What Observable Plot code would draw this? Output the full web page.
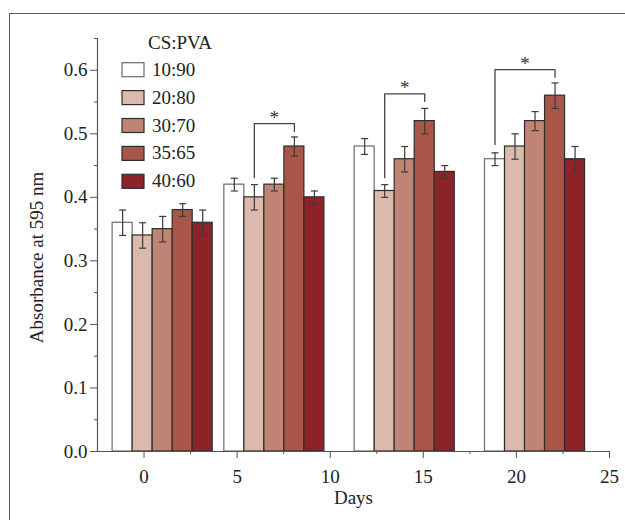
<!DOCTYPE html>
<html>
<head>
<meta charset="utf-8">
<script src="https://cdn.jsdelivr.net/npm/d3@7"></script>
<script src="https://cdn.jsdelivr.net/npm/@observablehq/plot@0.6"></script>
<style>
  html, body { margin: 0; padding: 0; background: #fff; overflow: hidden; }
  #wrap { position: relative; width: 625px; height: 520px; overflow: hidden; }
  #frame { position: absolute; left: 9px; top: 13px; width: 700px; height: 600px;
           border-top: 1.5px solid #5c5c5c; border-left: 1.5px solid #5c5c5c; }
  #chart { position: absolute; left: 0; top: 0; }
</style>
</head>
<body>
<div id="wrap"><div id="frame"></div><div id="chart"></div></div>
<script>
// ---- data ----
const days = [1, 7, 14, 21];
const seriesNames = ["10:90", "20:80", "30:70", "35:65", "40:60"];
const seriesColors = ["#ffffff", "#dcb9ad", "#bf8474", "#a85647", "#8e2229"];
const values1090 = [0.36, 0.42, 0.48, 0.46];
const values2080 = [0.34, 0.40, 0.41, 0.48];
const values3070 = [0.35, 0.42, 0.46, 0.52];
const values3565 = [0.38, 0.48, 0.52, 0.56];
const values4060 = [0.36, 0.40, 0.44, 0.46];
const errors1090 = [0.02, 0.01, 0.0125, 0.01];
const errors2080 = [0.02, 0.02, 0.01, 0.02];
const errors3070 = [0.02, 0.01, 0.02, 0.015];
const errors3565 = [0.01, 0.015, 0.02, 0.02];
const errors4060 = [0.02, 0.01, 0.01, 0.02];
const xTicks = [0, 5, 10, 15, 20, 25];
const yTicks = [0, 0.1, 0.2, 0.3, 0.4, 0.5, 0.6];
// significance brackets
const bracketDay = [7, 14, 21];
const bracketFrom = [1, 1, 0];       // series index of left leg
const bracketTo = [3, 3, 3];         // series index of right leg
const bracketLeftBase = [0.431, 0.431, 0.483];
const bracketTop = [0.516, 0.563, 0.601];
const bracketRightBase = [0.504, 0.551, 0.589];
const bracketLabel = ["*", "*", "*"];

// ---- layout params ----
const barW = 1.075;
const capHalf = 0.19;

const allValues = [values1090, values2080, values3070, values3565, values4060];
const allErrors = [errors1090, errors2080, errors3070, errors3565, errors4060];
const rows = [];
days.forEach((day, di) => {
  seriesNames.forEach((s, si) => {
    rows.push({day, si, series: s, color: seriesColors[si],
      value: allValues[si][di], err: allErrors[si][di]});
  });
});
const xc = d => d.day + (d.si - 2) * barW;
const brackets = [];
const stars = [];
bracketDay.forEach((day, i) => {
  const xl = day + (bracketFrom[i] - 2) * barW;
  const xr = day + (bracketTo[i] - 2) * barW;
  brackets.push([
    {x: xl, y: bracketLeftBase[i]}, {x: xl, y: bracketTop[i]},
    {x: xr, y: bracketTop[i]}, {x: xr, y: bracketRightBase[i]}
  ]);
  stars.push({x: (xl + xr) / 2, y: bracketTop[i], label: bracketLabel[i]});
});

const minorX = d3.range(2.5, 25, 5);
const minorY = d3.range(0.05, 0.66, 0.1);

const textColor = "#222";
const axisColor = "#555";
const font = "'Liberation Serif', 'Times New Roman', serif";

const plot = Plot.plot({
  width: 625, height: 520,
  marginLeft: 97, marginRight: 16, marginTop: 38, marginBottom: 69,
  x: {domain: [-2.5, 25]},
  y: {domain: [0, 0.65]},
  color: {type: "identity"},
  style: {fontFamily: font, fontSize: "19px", color: textColor, background: "transparent", overflow: "visible"},
  marks: [
    Plot.rectY(rows, {
      x1: d => d.day + (d.si - 2.5) * barW, x2: d => d.day + (d.si - 1.5) * barW,
      y1: 0, y2: "value", fill: "color",
      stroke: d => d.si === 0 ? "#6b6b6b" : "#2d2d2d", strokeWidth: 1.2
    }),
    Plot.ruleX(rows, {x: xc, y1: d => d.value - d.err, y2: d => d.value + d.err, stroke: "#3b3b3b", strokeWidth: 1.2}),
    Plot.link(rows, {x1: d => xc(d) - capHalf, x2: d => xc(d) + capHalf, y1: d => d.value + d.err, y2: d => d.value + d.err, stroke: "#3b3b3b", strokeWidth: 1.2}),
    Plot.link(rows, {x1: d => xc(d) - capHalf, x2: d => xc(d) + capHalf, y1: d => d.value - d.err, y2: d => d.value - d.err, stroke: "#3b3b3b", strokeWidth: 1.2}),
    ...brackets.map(b => Plot.line(b, {x: "x", y: "y", stroke: "#444", strokeWidth: 1.3})),
    Plot.text(stars, {x: "x", y: "y", text: "label", dy: -6, fontSize: 19, fill: "#333"}),
    Plot.ruleY([0], {x1: -2.5, x2: 25, stroke: axisColor, strokeWidth: 1.2}),
    Plot.ruleX([-2.5], {y1: 0, y2: 0.65, stroke: axisColor, strokeWidth: 1.2}),
    Plot.axisX({ticks: xTicks, tickSize: 7, tickPadding: 11, tickFormat: d3.format("d"), label: null, stroke: axisColor, fill: textColor}),
    Plot.axisX({ticks: minorX, tickSize: 3, text: null, label: null, stroke: axisColor}),
    Plot.axisY({ticks: yTicks, tickSize: 7, tickPadding: 3, tickFormat: d3.format(".1f"), label: null, stroke: axisColor, fill: textColor}),
    Plot.axisY({ticks: minorY, tickSize: 3, text: null, label: null, stroke: axisColor}),
    Plot.text(["Days"], {frameAnchor: "bottom", dy: 52.5, fill: textColor})
  ]
});
document.getElementById("chart").appendChild(plot);

// y-axis label & legend
const svg = d3.select(plot);
svg.append("text")
  .attr("transform", "translate(37,257.5) rotate(-90)")
  .attr("text-anchor", "middle").attr("dy", "0.32em")
  .attr("fill", textColor).attr("font-size", 19).attr("font-family", font)
  .text("Absorbance at 595 nm");

const lg = svg.append("g").attr("font-size", 19).attr("font-family", font)
  .attr("fill", textColor).attr("text-anchor", "start");
lg.append("text").attr("x", 148).attr("y", 42.7).attr("dy", "0.32em").text("CS:PVA");
seriesNames.forEach((s, i) => {
  const cy = 69.7 + i * 27.9;
  lg.append("rect").attr("x", 122).attr("y", cy - 7).attr("width", 22).attr("height", 14)
    .attr("fill", seriesColors[i]).attr("stroke", i === 0 ? "#6b6b6b" : "#2d2d2d").attr("stroke-width", 1.2);
  lg.append("text").attr("x", 152).attr("y", cy).attr("dy", "0.32em").text(s);
});
</script>
</body>
</html>
